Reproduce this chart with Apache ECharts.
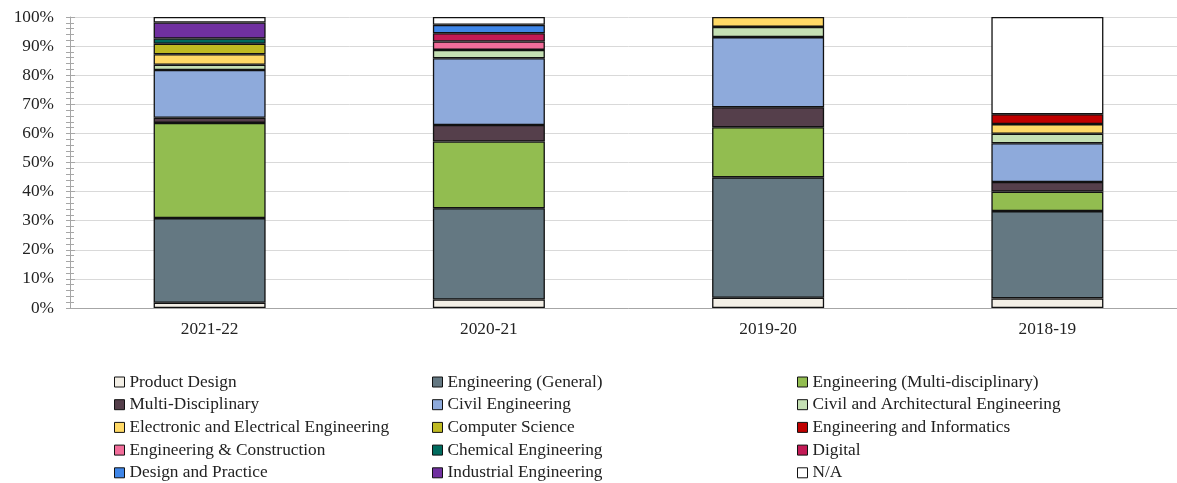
<!DOCTYPE html>
<html>
<head>
<meta charset="utf-8">
<script src="https://cdn.jsdelivr.net/npm/echarts@6/dist/echarts.min.js"></script>
<style>
html,body{margin:0;padding:0;background:#fff;overflow:hidden;width:1177px;height:483px;}
#chart{width:1190px;height:483px;}
</style>
</head>
<body>
<div id="chart"></div>
<script>
// Categories (academic years)
const categories = ['2021-22', '2020-21', '2019-20', '2018-19'];

// Series names (stack order bottom -> top)
const seriesNames = [
  'Product Design', 'Engineering (General)', 'Engineering (Multi-disciplinary)',
  'Multi-Disciplinary', 'Civil Engineering', 'Civil and Architectural Engineering',
  'Electronic and Electrical Engineering', 'Computer Science', 'Engineering and Informatics',
  'Engineering & Construction', 'Chemical Engineering', 'Digital',
  'Design and Practice', 'Industrial Engineering', 'N/A'
];

// Percent values per series, one per category
const productDesign      = [1.8, 2.9, 3.5, 3.3];
const engGeneral         = [29.1, 31.4, 41.4, 30.0];
const engMulti           = [32.7, 22.9, 17.2, 6.7];
const multiDisciplinary  = [1.8, 5.7, 6.9, 3.3];
const civilEng           = [16.4, 22.9, 24.1, 13.3];
const civilArch          = [1.8, 2.9, 3.5, 3.3];
const electronicEng      = [3.6, 0, 3.4, 3.3];
const computerScience    = [3.6, 0, 0, 0];
const engInformatics     = [0, 0, 0, 3.4];
const engConstruction    = [0, 2.9, 0, 0];
const chemicalEng        = [1.8, 0, 0, 0];
const digital            = [0, 2.8, 0, 0];
const designPractice     = [0, 2.9, 0, 0];
const industrialEng      = [5.5, 0, 0, 0];
const notAvailable       = [1.9, 2.7, 0, 33.4];

// Y tick labels
const yTickValues = [0, 10, 20, 30, 40, 50, 60, 70, 80, 90, 100];

const seriesValues = [
  productDesign, engGeneral, engMulti, multiDisciplinary, civilEng, civilArch,
  electronicEng, computerScience, engInformatics, engConstruction, chemicalEng,
  digital, designPractice, industrialEng, notAvailable
];

const colors = [
  '#F3EFE6', '#647882', '#92BD50', '#553F4B', '#8EAADB', '#C5E0B4',
  '#FFD966', '#BFBA22', '#C00000', '#F26D9A', '#006B5E', '#C31A56',
  '#3F86E8', '#7030A0', '#FFFFFF'
];

const FONT = '"Liberation Serif", "Times New Roman", serif';
const TXT = '#222222';
const FS = 17.3;

const series = seriesNames.map((name, i) => ({
  name: name,
  type: 'bar',
  stack: 'total',
  barWidth: 112,
  itemStyle: { color: colors[i], borderColor: '#111', borderWidth: 1.3 },
  emphasis: { disabled: true },
  data: seriesValues[i].map(v => v === 0 ? '-' : v)
}));

const legendCols = [
  { left: 114, names: [0, 3, 6, 9, 12] },
  { left: 432, names: [1, 4, 7, 10, 13] },
  { left: 797, names: [2, 5, 8, 11, 14] }
];

const legends = legendCols.map(c => ({
  orient: 'vertical',
  left: c.left,
  top: 373.5,
  padding: 0,
  itemWidth: 10,
  itemHeight: 10,
  itemGap: 5.7,
  icon: 'rect',
  selectedMode: false,
  itemStyle: { borderColor: '#111', borderWidth: 1 },
  textStyle: { fontFamily: FONT, fontSize: FS, color: TXT, lineHeight: 17 },
  data: c.names.map(i => seriesNames[i])
}));

const chart = echarts.init(document.getElementById('chart'), null, { renderer: 'canvas', width: 1190, height: 483 });
chart.setOption({
  animation: false,
  backgroundColor: '#ffffff',
  grid: { left: 70, top: 17, width: 1117, height: 291, containLabel: false },
  legend: legends,
  xAxis: {
    type: 'category',
    data: categories,
    axisLine: { lineStyle: { color: '#A6A6A6', width: 1 } },
    axisTick: { show: false },
    axisLabel: { fontFamily: FONT, fontSize: FS, color: TXT, margin: 13 }
  },
  yAxis: [
    {
      type: 'value',
      min: 0, max: 100, interval: 10,
      axisLine: { show: true, lineStyle: { color: '#A6A6A6', width: 1 } },
      axisTick: { show: true, length: 4, lineStyle: { color: '#A6A6A6' } },
      minorTick: { show: true, splitNumber: 5, length: 4, lineStyle: { color: '#A6A6A6' } },
      splitLine: { show: true, lineStyle: { color: '#D9D9D9', width: 1 } },
      axisLabel: {
        fontFamily: FONT, fontSize: FS, color: TXT, margin: 16,
        formatter: v => (yTickValues.indexOf(v) >= 0 ? v + '%' : '')
      }
    },
    {
      type: 'value',
      position: 'left',
      min: 0, max: 100, interval: 10,
      axisLine: { show: false },
      axisTick: { show: true, inside: true, length: 5, lineStyle: { color: '#A6A6A6' } },
      minorTick: { show: true, splitNumber: 5, length: 4, lineStyle: { color: '#A6A6A6' } },
      splitLine: { show: false },
      axisLabel: { show: false }
    }
  ],
  series: series
});
</script>
</body>
</html>
